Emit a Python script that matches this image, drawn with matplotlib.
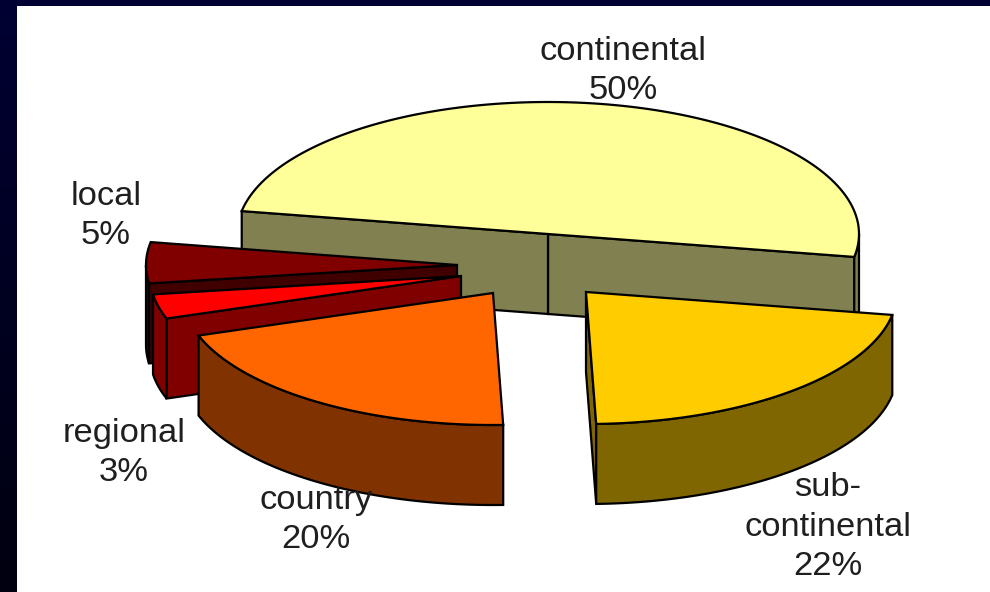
#!/usr/bin/env python3
# coding=utf-8
import numpy as np
import matplotlib
matplotlib.use("Agg")
import matplotlib.pyplot as plt
from matplotlib.patches import Polygon

plt.rcParams['font.family'] = ['Liberation Sans', 'DejaVu Sans']

names = ["continental", "sub-\ncontinental", "country", "regional", "local"]
shares = [50, 21.7, 20.3, 3, 5]
percent_labels = ["50%", "22%", "20%", "3%", "5%"]

top_colors = ["#FFFF99", "#FFCC00", "#FF6600", "#FF0000", "#800000"]
wall_colors = ["#808050", "#806600", "#803300", "#800000", "#400000"]

# explode offset of every slice from the pie centre, in pixels
offsets = [(0, 0), (38, 58), (-55, 59), (-87, 42), (-91, 31)]
label_pos = [(623, 71), (828, 527), (316, 520), (124, 453), (106, 216)]

cx, cy = 548, 234
a, b = 311, 132
depth = 80
start = -10.0
lw = 1.6


def rim(x0, y0, t1, t2):
  t = np.radians(np.linspace(t1, t2, 200))
  return np.column_stack([x0 + a*np.cos(t), y0 - b*np.sin(t)])


def radial_wall(ax, x0, y0, t, col):
  p = rim(x0, y0, t, t)[0]
  pts = [(x0, y0), p, (p[0], p[1]+depth), (x0, y0+depth)]
  ax.add_patch(Polygon(pts, closed=True, fc=col, ec="black", lw=lw))


def draw_slice(ax, x0, y0, t1, t2, top, wall):
  # t1 < t2, both in degrees, anticlockwise
  # a cut face only shows when it looks towards the viewer
  if np.cos(np.radians(t1)) > 0:
    radial_wall(ax, x0, y0, t1, wall)
  if np.cos(np.radians(t2)) < 0:
    radial_wall(ax, x0, y0, t2, wall)

  # only the front half of the outer rim can be seen
  for lo, hi in [(t1, min(t2, 0)), (max(t1, 180), t2)]:
    if hi > lo:
      r = rim(x0, y0, lo, hi)
      low = r[::-1] + [0, depth]
      ax.add_patch(Polygon(np.vstack([r, low]), closed=True, fc=wall, ec="black", lw=lw))

  edge = rim(x0, y0, t1, t2)
  ax.add_patch(Polygon(np.vstack([[(x0, y0)], edge]), closed=True, fc=top, ec="black", lw=lw))


fig = plt.figure(figsize=(9.9, 5.92), dpi=100)
ax = fig.add_axes([0, 0, 1, 1])

# slide background: navy fading to near black, white panel on it
grad = np.linspace(0, 1, 256).reshape(-1, 1, 1)
navy = np.array([0, 0, 0x33])/255.0
dark = np.array([0, 0, 0x10])/255.0
ax.imshow(navy + (dark - navy)*grad, extent=(0, 990, 592, 0), aspect="auto", zorder=0)
ax.set_xlim(0, 990)
ax.set_ylim(592, 0)
ax.axis("off")
ax.add_patch(plt.Rectangle((17, 6), 973, 586, fc="white", ec="none", zorder=0.5))

# continental runs anticlockwise from the start angle, the rest clockwise
spans = [(start, start + 360*shares[0]/100.0)]
cur = start
for s in shares[1:]:
  t1, t2 = cur - 360*s/100.0, cur
  cur = t1
  if t1 < -90:
    t1, t2 = t1 + 360, t2 + 360
  spans.append((t1, t2))

# back slice first, then from the left round to the front ones
for i in [0, 4, 3, 2, 1]:
  draw_slice(ax, cx + offsets[i][0], cy + offsets[i][1], spans[i][0], spans[i][1], top_colors[i], wall_colors[i])

for i in range(len(names)):
  ax.text(label_pos[i][0], label_pos[i][1], names[i] + "\n" + percent_labels[i],
          fontsize=24.8, color="#1f1f1f", ha="center", va="center", linespacing=1.36)

fig.savefig("out.png", dpi=100)
